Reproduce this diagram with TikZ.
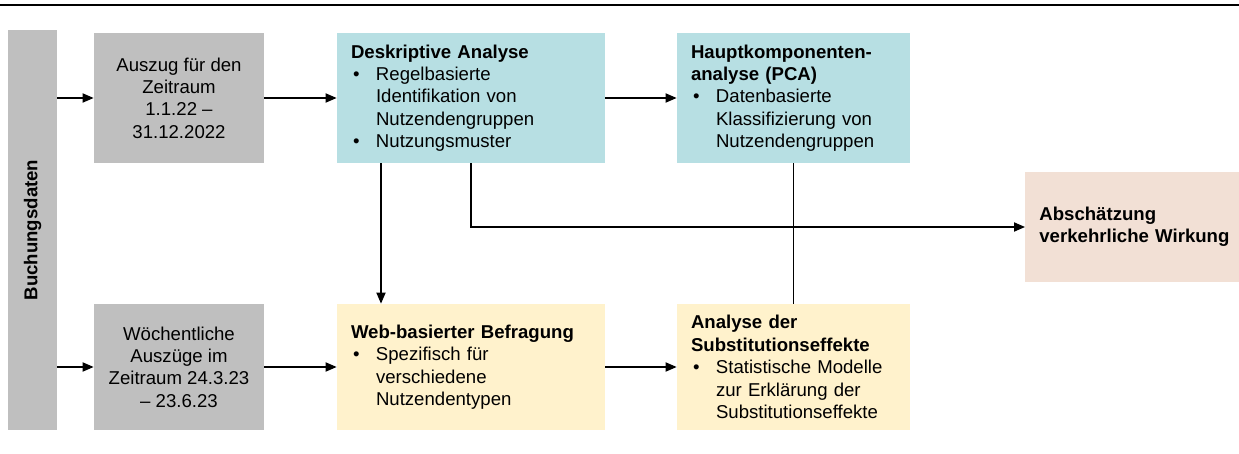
\documentclass[tikz,border=0pt]{standalone}
\usepackage{fontspec}
\setmainfont{Liberation Sans}
\usetikzlibrary{arrows.meta}
\definecolor{boxgray}{RGB}{191,191,191}
\definecolor{boxteal}{RGB}{183,223,227}
\definecolor{boxyellow}{RGB}{255,242,204}
\definecolor{boxpeach}{RGB}{242,224,213}
\newcommand{\bul}{\makebox[12.5pt][l]{\hspace{1pt}\textbullet}}
\newcommand{\ind}{\hspace*{12.5pt}}
\tikzset{
  basebox/.style={draw=none, inner sep=0pt, font=\fontsize{9.3pt}{11.2pt}\selectfont},
  graybox/.style={basebox, fill=boxgray, align=center},
  leftbox/.style={basebox, align=left, text width=#1, inner xsep=7pt},
  tealbox/.style={leftbox=#1, fill=boxteal},
  yellowbox/.style={leftbox=#1, fill=boxyellow},
  peachbox/.style={leftbox=#1, fill=boxpeach},
  conn/.style={line width=0.6pt, draw=black},
  arr/.style={conn, -{Triangle[length=5.5pt,width=4.6pt]}},
}
\begin{document}
\begin{tikzpicture}[x=0.5pt,y=-0.5pt]
\useasboundingbox (0,0) rectangle (1239,454);
\draw[line width=1.1pt] (0,5) -- (1239,5);

\node[graybox, minimum width=24.5pt, minimum height=200pt] (bd) at (32.5,230)
  {\rotatebox{90}{\bfseries Buchungsdaten}};

\node[graybox, minimum width=85pt, minimum height=65pt] (g1) at (179,98)
  {Auszug für den\\Zeitraum\\1.1.22 –\\31.12.2022};
\node[graybox, minimum width=85pt, minimum height=63pt] (g2) at (179,367)
  {Wöchentliche\\Auszüge im\\Zeitraum 24.3.23\\– 23.6.23};

\node[tealbox=120pt, minimum height=65pt] (desk) at (471,98)
  {{\bfseries Deskriptive Analyse}\\
   \bul Regelbasierte\\
   \ind Identifikation von\\
   \ind Nutzendengruppen\\
   \bul Nutzungsmuster};

\node[tealbox=102.5pt, minimum height=65pt] (haupt) at (793.5,98)
  {{\bfseries Hauptkomponenten-}\\
   {\bfseries analyse (PCA)}\\
   \bul Datenbasierte\\
   \ind Klassifizierung von\\
   \ind Nutzendengruppen};

\node[peachbox=100pt, minimum height=55pt, anchor=west] (absch) at (1025,227)
  {{\bfseries Abschätzung}\\
   {\bfseries verkehrliche Wirkung}};

\node[yellowbox=120pt, minimum height=63pt] (web) at (471,367)
  {{\bfseries Web-basierter Befragung}\\
   \bul Spezifisch für\\
   \ind verschiedene\\
   \ind Nutzendentypen};

\node[yellowbox=102.5pt, minimum height=63pt] (anal) at (793.5,367)
  {{\bfseries Analyse der}\\
   {\bfseries Substitutionseffekte}\\
   \bul Statistische Modelle\\
   \ind zur Erklärung der\\
   \ind Substitutionseffekte};

\draw[arr] (bd.east |- g1.west) -- (g1.west);
\draw[arr] (bd.east |- g2.west) -- (g2.west);
\draw[arr] (g1.east) -- (desk.west);
\draw[arr] (g2.east) -- (web.west);
\draw[arr] (desk.east) -- (haupt.west);
\draw[arr] (web.east) -- (anal.west);
\draw[arr] ([xshift=-45pt]desk.south) -- ([xshift=-45pt]web.north);
\draw[arr] (desk.south) |- (absch.west);
\draw[conn] (haupt.south) -- (anal.north);
\end{tikzpicture}
\end{document}
